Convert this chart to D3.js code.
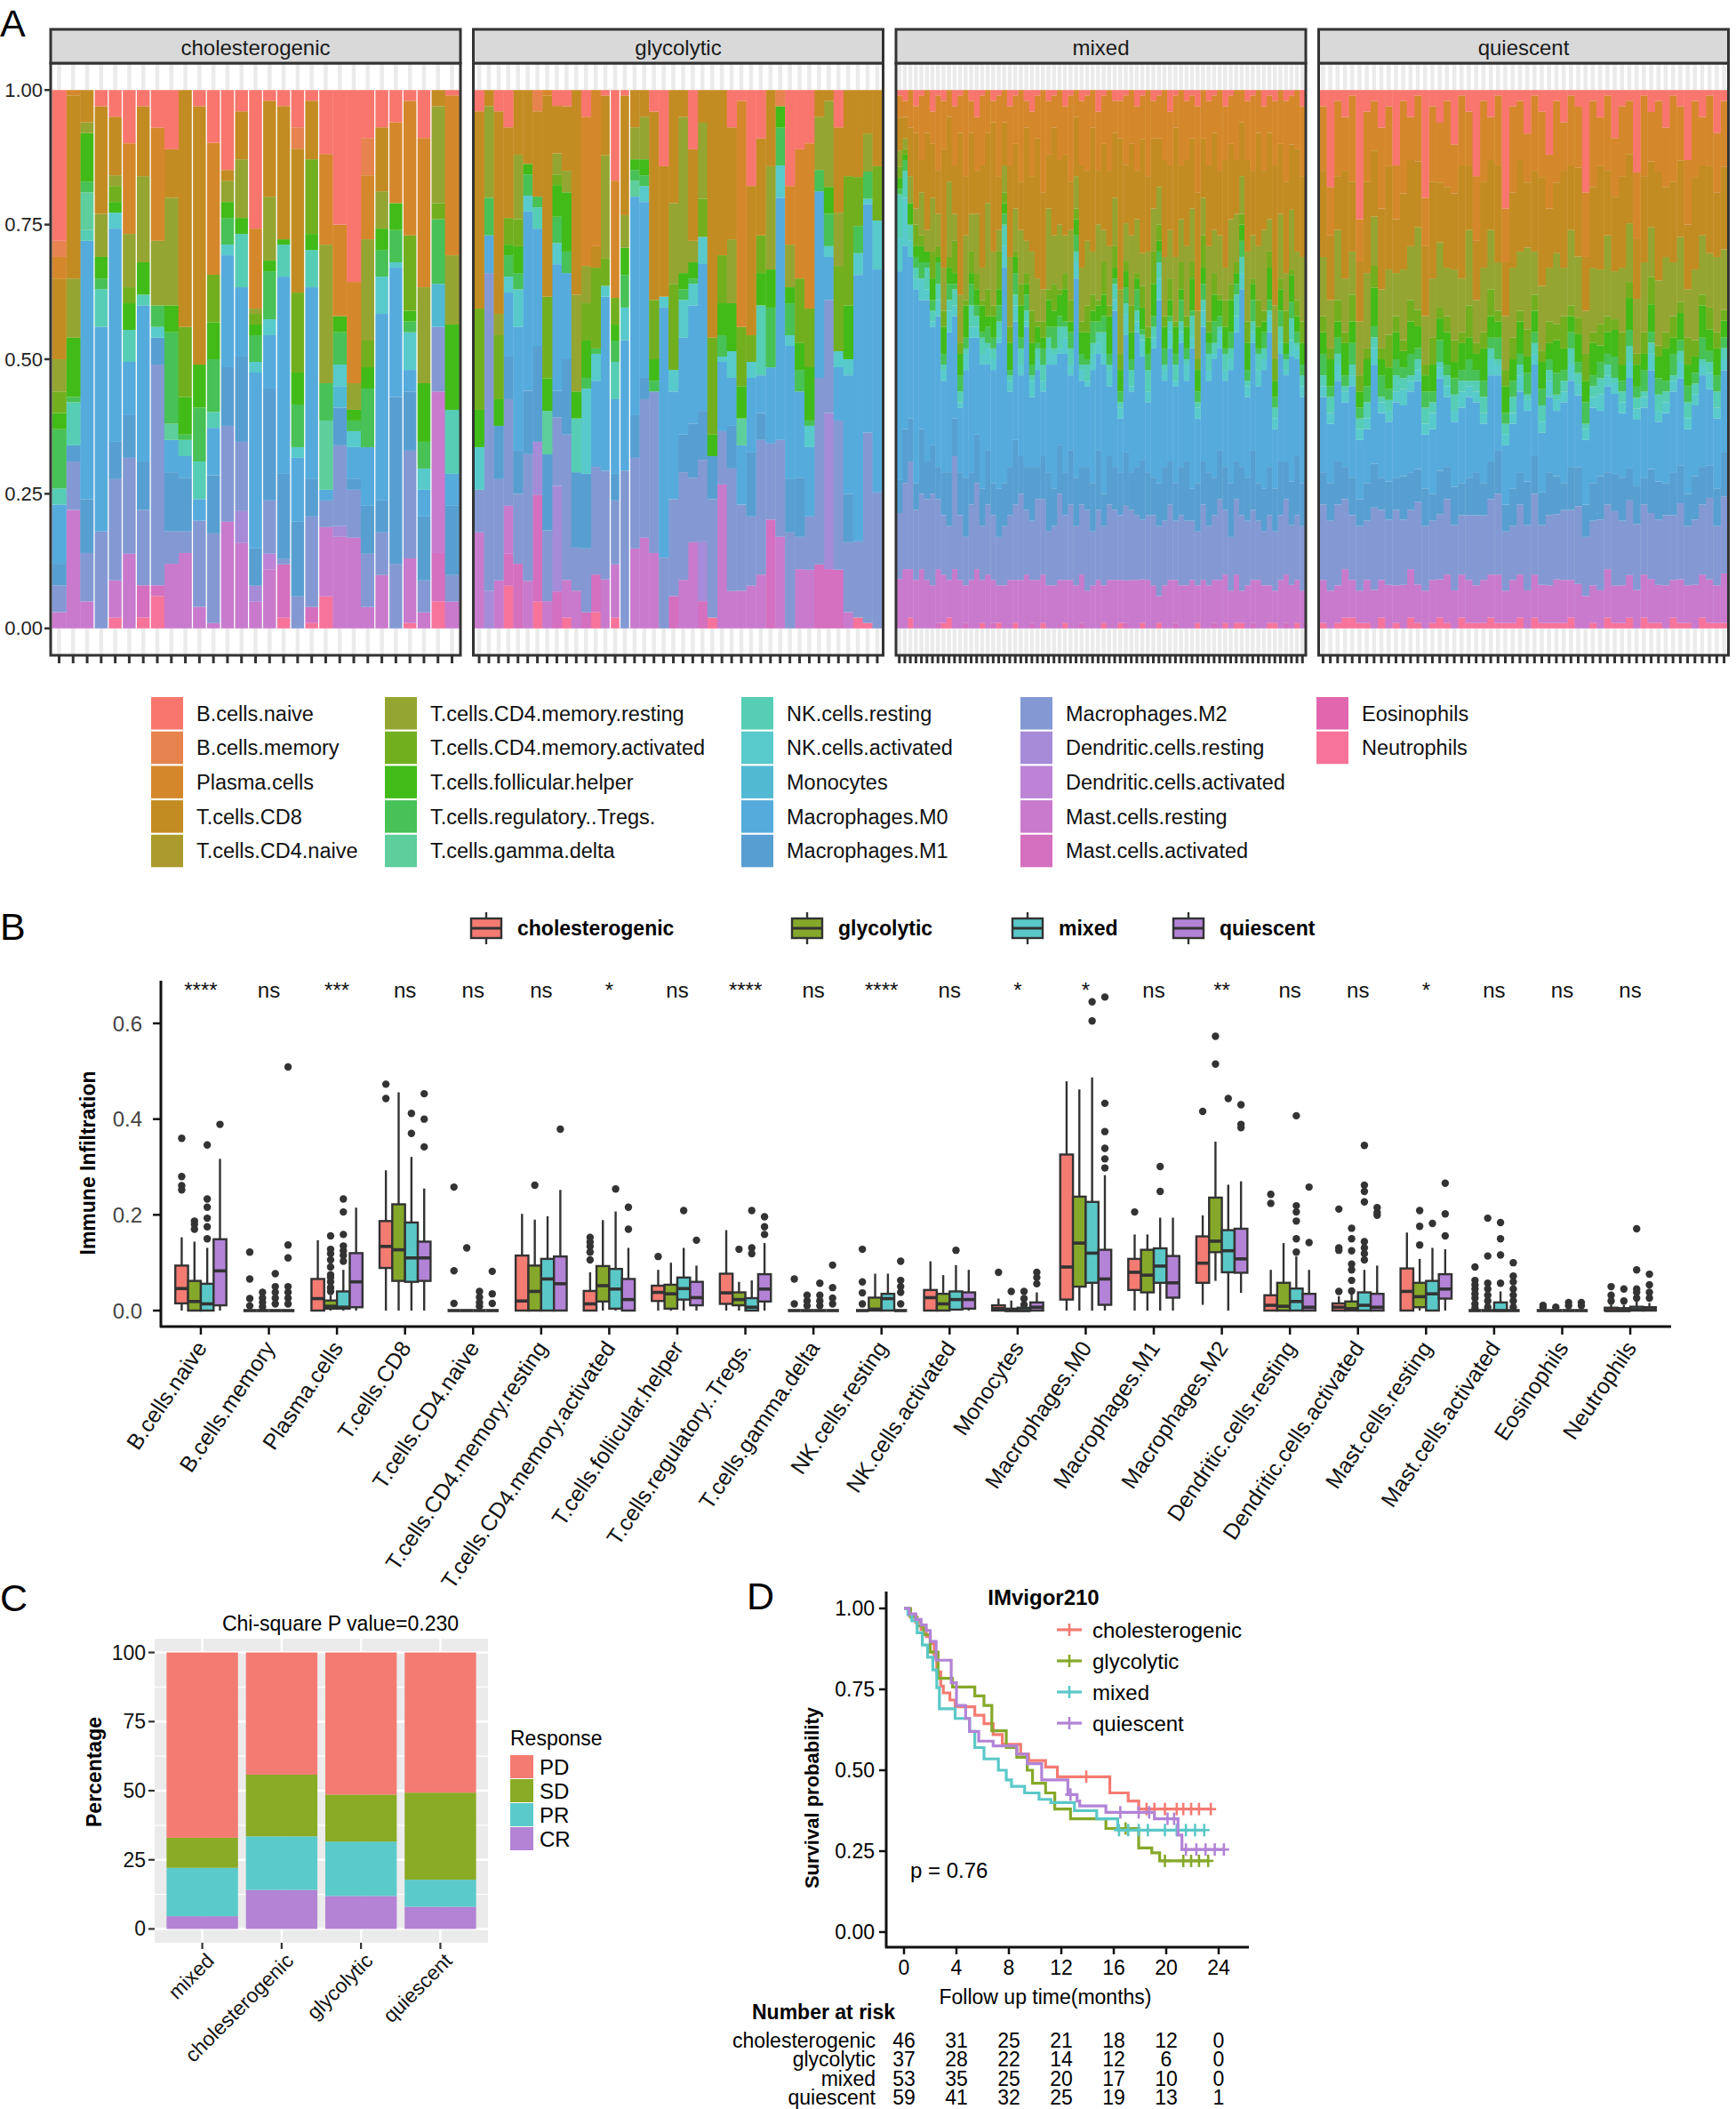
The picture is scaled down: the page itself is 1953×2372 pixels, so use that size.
<!DOCTYPE html>
<html><head><meta charset="utf-8">
<script src="https://cdn.jsdelivr.net/npm/d3@7"></script>
<style>body{margin:0;background:#fff}svg{display:block}text{font-family:"Liberation Sans",Arial,Helvetica,sans-serif}</style>
</head><body><svg id="c" width="1953" height="2372"></svg>
<script>
// ---------------- DATA ----------------
const cellTypes = ["B.cells.naive","B.cells.memory","Plasma.cells","T.cells.CD8","T.cells.CD4.naive","T.cells.CD4.memory.resting","T.cells.CD4.memory.activated","T.cells.follicular.helper","T.cells.regulatory..Tregs.","T.cells.gamma.delta","NK.cells.resting","NK.cells.activated","Monocytes","Macrophages.M0","Macrophages.M1","Macrophages.M2","Dendritic.cells.resting","Dendritic.cells.activated","Mast.cells.resting","Mast.cells.activated","Eosinophils","Neutrophils"];
const subtypes = ["cholesterogenic","glycolytic","mixed","quiescent"];

// Panel A: per-sample fractions (percent, in cellTypes order)
const fracChol = ["28 3 4 15 0 6 4 3 11 0 3 0 0 11 4 5 0 0 3 0 0 0","0 0 1 34 0 11 0 11 1 0 8 0 0 0 3 9 0 0 22 0 0 0","0 0 0 6 0 2 0 9 2 7 2 0 0 48 10 9 0 0 5 0 0 0","3 0 0 20 0 8 0 4 2 0 7 0 0 38 0 18 0 0 0 0 0 0","5 0 0 11 0 2 3 2 0 0 0 3 0 40 7 19 0 0 7 0 0 2","10 0 17 0 0 10 3 5 0 0 6 0 0 10 8 18 0 0 14 0 0 0","3 0 0 13 0 16 0 6 0 0 2 0 0 29 9 14 0 0 0 6 0 2","7 0 21 0 0 12 0 0 4 0 0 2 0 0 5 41 0 0 0 2 0 6","11 0 0 9 0 20 0 5 17 3 0 0 0 6 11 6 0 0 12 0 0 0","0 0 0 44 0 0 13 7 1 0 3 0 0 4 10 4 0 0 14 0 0 0","3 0 0 48 0 0 0 8 10 0 7 0 0 4 0 16 0 0 4 0 0 0","10 0 25 0 0 0 9 7 10 0 3 0 0 9 11 17 0 0 1 0 0 0","15 0 0 2 0 4 0 3 5 0 0 2 0 21 11 18 0 0 20 0 0 0","4 0 0 9 0 11 0 3 0 0 10 0 0 13 16 13 6 0 16 0 0 0","26 0 15 0 0 1 2 2 5 0 0 2 0 33 7 0 3 0 5 0 0 0","2 0 0 18 0 12 0 2 9 0 0 3 0 10 21 10 0 3 11 0 0 0","3 0 0 25 0 0 0 1 0 0 6 0 0 37 16 1 0 0 0 10 0 2","7 4 0 27 0 0 15 6 8 0 0 2 0 12 14 6 0 0 0 0 0 0","2 0 0 11 0 0 14 3 0 0 7 0 0 36 7 17 0 0 0 3 0 1","12 0 17 0 0 26 0 0 7 13 0 0 0 2 0 5 0 0 13 0 0 6","25 0 17 0 0 0 0 3 6 0 0 4 4 0 7 15 2 0 17 0 0 0","36 0 19 0 0 5 0 2 2 0 0 3 0 6 2 9 0 0 17 0 0 0","9 7 12 0 0 19 5 4 11 0 0 0 0 11 9 10 0 0 4 0 0 0","7 0 0 12 0 7 0 4 5 0 0 7 0 35 6 8 0 0 10 0 0 0","6 0 15 0 0 0 0 5 6 0 0 1 0 24 31 12 0 0 0 0 0 0","2 0 25 0 0 0 14 2 2 0 0 7 0 4 11 20 0 0 12 0 0 1","9 0 28 0 0 18 0 11 5 0 0 4 0 5 12 6 0 0 3 0 0 0","0 0 0 3 0 18 3 0 12 0 0 0 8 0 0 12 0 0 30 9 0 5","1 0 30 0 0 13 0 16 0 0 12 0 0 6 13 5 0 0 5 0 0 0"];
const fracGlyc = ["4 0 0 37 0 0 19 7 0 0 0 8 0 0 0 8 0 0 18 0 0 0","0 0 0 3 0 17 0 0 7 0 0 0 0 7 0 59 7 0 0 0 0 0","4 0 0 38 0 4 12 5 0 0 0 0 0 0 10 19 0 0 9 0 0 0","7 0 0 17 0 0 5 2 4 0 0 3 0 12 8 20 0 0 9 6 0 8","0 0 0 12 0 12 5 5 3 0 0 7 0 23 8 13 0 0 0 12 0 0","0 0 0 14 0 0 0 2 4 0 0 3 0 34 12 24 0 0 9 0 0 0","0 4 0 16 0 0 0 0 2 0 4 0 0 22 18 0 10 0 0 20 0 5","0 0 1 37 0 0 15 6 0 8 0 0 0 0 14 13 0 0 5 0 0 0","3 0 0 9 0 4 2 6 5 0 0 4 0 24 5 13 20 0 0 7 0 0","3 0 0 12 0 4 0 11 4 0 0 0 0 16 14 27 0 0 7 0 0 2","0 0 0 38 0 18 0 5 0 0 10 0 0 0 14 8 0 0 7 0 0 0","5 0 28 0 0 7 7 7 2 0 0 16 0 0 14 12 0 0 0 3 0 0","0 0 29 4 0 0 15 0 1 0 0 5 0 16 0 20 0 0 0 7 0 3","1 0 0 11 0 19 5 0 0 0 0 2 0 32 0 20 0 0 9 0 0 0","17 0 22 0 0 0 5 3 4 0 7 0 0 14 5 12 0 0 10 0 0 2","1 0 0 22 0 6 0 5 6 0 0 6 0 24 0 29 0 0 0 0 0 0","0 0 0 7 0 6 0 2 2 3 0 0 0 41 8 17 0 0 15 0 0 0","0 0 0 5 0 8 0 3 2 0 0 3 0 33 4 26 0 0 17 0 0 0","4 0 0 35 0 0 11 4 2 0 0 0 0 0 0 30 0 0 14 0 0 0","14 0 0 24 0 0 0 0 0 0 0 2 0 46 0 13 0 0 0 0 0 0","0 0 0 21 0 15 16 0 0 0 0 4 0 20 0 18 0 0 0 6 0 0","0 0 0 5 0 29 0 3 2 0 0 7 0 18 7 20 0 0 9 0 0 0","11 0 0 17 0 4 0 3 1 0 0 4 0 22 10 12 0 0 16 0 0 0","0 0 0 6 0 14 7 0 0 0 0 5 0 27 9 15 11 0 0 5 0 0","0 0 0 46 0 0 18 4 0 0 0 0 0 0 8 22 0 0 0 0 0 2","0 0 0 31 0 0 9 6 4 0 0 1 0 13 0 10 0 0 27 0 0 0","7 0 0 21 0 12 0 9 0 0 0 5 0 9 8 23 0 0 7 0 0 0","2 0 42 0 0 0 11 6 0 5 0 0 0 11 0 16 0 0 7 0 0 0","18 0 0 28 0 0 5 0 0 0 0 3 0 14 12 13 0 0 8 0 0 0","9 0 0 18 0 0 7 6 0 0 13 0 0 7 5 25 0 0 10 0 0 0","0 0 0 14 0 19 0 7 11 0 0 0 0 14 0 14 0 0 0 20 0 0","0 3 0 0 0 0 0 4 7 0 0 6 0 45 0 18 0 0 17 0 0 0","18 0 11 0 0 8 0 3 6 0 0 2 0 25 10 18 0 0 0 0 0 0","11 0 24 0 0 0 12 5 4 0 0 0 0 16 11 6 0 0 11 0 0 0","10 0 31 0 0 0 11 10 1 0 0 4 0 13 0 10 0 0 11 0 0 0","0 0 0 5 0 10 0 0 4 0 0 0 0 35 0 35 0 0 0 12 0 0","0 0 0 2 0 16 0 5 6 0 0 2 0 8 0 21 29 0 0 11 0 0","7 0 0 16 0 10 16 0 0 0 0 3 0 10 0 28 0 0 0 11 0 0","0 0 0 16 0 0 24 10 0 0 0 3 0 22 9 13 0 0 3 0 0 0","0 0 0 16 0 0 9 0 5 0 0 4 0 49 0 14 0 0 0 0 0 2","0 0 0 8 0 7 0 0 5 0 0 1 0 42 0 35 0 0 0 0 0 1","0 0 0 14 0 0 10 0 0 0 0 9 0 41 0 25 0 0 0 0 0 0"];
const fracMixed = ["1 0 4 6 0 3 2 2 1 0 8 6 0 38 6 12 0 0 9 0 0 0","2 0 3 4 0 2 1 1 2 0 5 9 0 34 10 16 0 0 11 0 0 0","0 0 7 9 0 5 0 4 0 0 3 3 0 30 8 20 0 0 9 0 0 2","3 0 5 14 0 3 4 2 2 0 2 2 0 36 5 13 0 0 9 0 0 0","1 0 12 6 0 8 2 3 3 0 0 4 0 24 12 14 0 0 11 0 0 0","0 0 8 18 0 4 0 2 1 0 4 2 0 30 7 15 0 0 9 0 0 0","4 0 6 10 0 10 5 4 2 0 2 1 0 22 9 17 0 0 8 0 0 0","1 0 14 8 0 6 2 1 4 0 3 3 0 28 6 13 0 0 10 1 0 0","2 0 9 22 0 8 3 5 2 0 1 2 0 17 8 11 0 0 9 0 0 1","0 0 5 12 0 14 2 3 3 0 2 4 0 26 10 10 0 0 7 0 0 2","3 0 11 9 0 5 6 2 1 0 3 2 0 19 7 21 0 0 11 0 0 0","1 0 7 30 0 9 2 4 3 0 2 1 0 12 8 12 0 0 9 0 0 0","0 0 16 11 0 12 1 6 2 0 1 3 0 20 11 9 0 0 7 1 0 0","2 0 6 15 0 7 4 2 4 0 4 2 0 25 6 14 0 0 9 0 0 0","5 0 10 8 0 11 3 3 2 0 2 2 0 18 9 16 0 0 11 0 0 0","1 0 13 19 0 6 1 5 1 0 3 2 0 23 7 10 0 0 8 0 0 1","0 0 8 13 0 16 5 2 3 0 1 3 0 16 10 13 0 0 10 0 0 0","2 0 4 24 0 10 2 4 2 0 2 2 0 21 6 12 0 0 8 1 0 0","1 0 15 10 0 4 7 3 3 0 3 1 0 27 9 9 0 0 7 0 0 1","0 0 6 8 0 5 2 2 2 0 4 4 0 40 8 11 0 0 8 0 0 0","3 0 11 17 0 13 3 5 1 0 1 2 0 14 9 12 0 0 9 0 0 0","1 0 9 12 0 8 1 3 4 0 2 3 0 22 12 14 0 0 8 0 0 1","0 0 17 9 0 10 4 6 2 0 3 2 0 15 7 16 0 0 9 0 0 0","2 0 5 21 0 6 2 2 3 0 2 1 0 26 8 12 0 0 10 0 0 0","4 0 12 14 0 11 6 4 2 0 1 3 0 13 10 11 0 0 8 1 0 0","1 0 8 26 0 8 1 3 1 0 2 2 0 18 6 15 0 0 9 0 0 0","0 0 19 18 0 6 3 2 3 0 3 2 0 12 8 14 0 0 9 0 0 1","2 0 10 10 0 15 2 5 2 0 2 3 0 20 11 10 0 0 8 0 0 0","1 0 6 20 0 9 5 3 4 0 1 2 0 23 7 11 0 0 8 0 0 0","0 0 13 12 0 12 1 4 2 0 4 1 0 17 9 16 0 0 9 0 0 0","3 0 9 15 0 7 3 6 1 0 2 3 0 22 8 12 0 0 8 0 0 1","1 0 16 9 0 13 4 2 3 0 3 2 0 14 10 14 0 0 9 0 0 0","0 0 5 11 0 6 2 3 3 0 2 3 0 37 9 11 0 0 8 0 0 0","2 0 12 19 0 10 2 4 2 0 1 2 0 16 7 13 0 0 9 1 0 0","1 0 14 13 0 12 5 5 1 0 3 1 0 15 8 15 0 0 7 0 0 0","0 0 7 23 0 8 3 2 4 0 2 3 0 21 9 10 0 0 8 0 0 0","4 0 11 10 0 14 1 3 2 0 2 2 0 18 11 13 0 0 9 0 0 0","1 0 9 16 0 6 6 4 3 0 4 2 0 24 6 11 0 0 7 0 0 1","0 0 15 14 0 11 2 7 2 0 1 3 0 13 9 14 0 0 9 0 0 0","2 0 6 12 0 9 4 2 1 0 3 2 0 29 8 13 0 0 9 0 0 0","2 0 7 28 0 12 3 4 2 0 1 2 0 10 8 12 0 0 8 0 0 1","1 0 13 11 0 7 2 3 3 0 2 4 0 22 10 14 0 0 8 1 0 0","0 0 10 17 0 13 5 5 2 0 3 1 0 15 7 13 0 0 9 0 0 0","3 0 12 9 0 10 1 2 4 0 2 2 0 25 9 12 0 0 9 0 0 0","1 0 8 21 0 6 4 4 1 0 1 3 0 19 11 11 0 0 8 0 0 1","0 0 16 14 0 14 2 3 3 0 4 2 0 13 8 12 0 0 9 0 0 0","2 0 7 13 0 8 6 6 2 0 2 2 0 24 7 13 0 0 8 0 0 0","1 0 8 9 0 7 3 2 2 0 3 4 0 34 8 13 0 0 5 0 0 1","0 0 13 18 0 11 2 4 3 0 1 2 0 16 10 12 0 0 8 0 0 0","4 0 10 12 0 9 4 3 1 0 2 3 0 21 8 14 0 0 9 0 0 0","1 0 6 24 0 12 1 5 2 0 3 1 0 18 7 11 0 0 8 1 0 0","0 0 14 10 0 8 5 2 4 0 2 2 0 23 9 13 0 0 8 0 0 0","2 0 11 16 0 13 2 4 2 0 1 3 0 15 11 12 0 0 8 0 0 0","1 0 8 13 0 10 3 6 1 0 4 2 0 26 6 11 0 0 9 0 0 0","3 0 16 22 0 9 2 4 2 0 1 2 0 12 9 10 0 0 7 0 0 1","0 0 9 11 0 7 6 3 3 0 2 3 0 25 8 14 0 0 9 0 0 0","2 0 12 15 0 14 2 2 2 0 3 2 0 17 10 11 0 0 8 0 0 0","1 0 7 18 0 8 4 5 4 0 2 1 0 22 7 12 0 0 8 1 0 0","0 0 15 12 0 11 1 3 2 0 1 3 0 19 9 15 0 0 9 0 0 0","3 0 10 20 0 6 5 4 1 0 3 2 0 16 8 12 0 0 9 0 0 1","1 0 9 14 0 12 3 6 3 0 2 2 0 21 10 10 0 0 7 0 0 0","0 0 13 10 0 9 2 2 2 0 4 3 0 24 7 14 0 0 9 0 0 1","0 0 6 10 0 7 2 3 3 0 3 3 0 33 9 14 0 0 6 0 0 1","2 0 11 17 0 13 4 5 2 0 1 2 0 15 8 12 0 0 8 0 0 0","1 0 14 12 0 8 1 3 4 0 2 2 0 20 11 13 0 0 8 1 0 0","0 0 8 21 0 10 5 4 1 0 3 3 0 18 7 11 0 0 9 0 0 0","3 0 12 11 0 15 2 2 3 0 2 2 0 22 8 10 0 0 8 0 0 0","1 0 7 16 0 6 3 6 2 0 1 3 0 25 9 13 0 0 7 0 0 1","2 0 12 26 0 10 4 3 2 0 2 2 0 11 8 11 0 0 6 0 0 1","0 0 10 13 0 12 2 4 3 0 3 2 0 20 10 12 0 0 9 0 0 0","2 0 15 17 0 7 6 2 1 0 2 1 0 16 7 14 0 0 9 1 0 0","1 0 9 12 0 11 1 5 3 0 4 3 0 23 8 11 0 0 8 0 0 0","0 0 11 19 0 9 3 3 2 0 1 2 0 18 11 12 0 0 8 0 0 1","3 0 13 15 0 12 4 4 2 0 2 2 0 16 8 12 0 0 7 0 0 0"];
const fracQuies = ["3 0 12 16 0 11 3 4 4 0 2 2 0 14 6 14 0 0 8 0 0 1","18 0 9 12 0 9 2 5 2 0 3 2 0 11 7 13 0 0 7 0 0 0","2 0 14 10 0 13 4 3 3 0 2 3 0 15 8 15 0 0 7 0 0 1","5 0 10 20 0 10 2 6 2 0 1 2 0 12 6 13 0 0 9 0 0 2","1 0 16 13 0 8 5 4 4 0 2 2 0 17 7 12 0 0 7 0 0 2","24 0 8 11 0 10 3 3 2 0 2 2 0 11 5 12 0 0 6 0 0 1","4 0 13 17 0 14 2 5 3 0 3 2 0 10 7 11 0 0 8 0 0 1","2 0 9 12 0 9 4 7 2 0 2 3 0 18 8 15 0 0 7 0 0 0","7 0 15 15 0 11 2 3 4 0 1 2 0 12 6 13 0 0 7 0 0 2","3 0 11 19 0 12 6 4 2 0 2 2 0 11 7 12 0 0 8 0 0 0","14 0 10 10 0 8 3 5 3 0 3 2 0 14 6 14 0 0 7 0 0 1","2 0 17 14 0 13 2 3 2 0 2 3 0 13 8 12 0 0 8 0 0 0","5 0 8 16 0 10 4 6 4 0 1 2 0 15 7 11 0 0 9 0 0 2","1 0 12 12 0 15 3 4 2 0 2 2 0 16 6 15 0 0 7 0 0 1","20 0 9 13 0 9 2 3 3 0 3 2 0 10 7 12 0 0 7 0 0 0","3 0 14 18 0 11 5 5 2 0 2 3 0 12 5 11 0 0 8 0 0 1","6 0 11 11 0 12 2 4 4 0 1 2 0 17 8 12 0 0 7 0 0 2","2 0 16 15 0 9 3 6 2 0 2 2 0 13 6 14 0 0 9 0 0 1","10 0 9 14 0 13 4 3 3 0 3 2 0 12 7 12 0 0 7 0 0 0","1 0 13 21 0 10 2 5 2 0 2 3 0 14 6 11 0 0 8 0 0 2","4 0 10 12 0 14 6 4 4 0 1 2 0 15 7 12 0 0 8 0 0 1","16 0 12 11 0 8 2 3 2 0 2 2 0 13 8 13 0 0 7 0 0 1","2 0 15 16 0 12 3 6 3 0 3 2 0 11 6 12 0 0 8 0 0 1","5 0 8 13 0 11 5 4 2 0 2 3 0 16 7 14 0 0 8 0 0 2","1 0 13 18 0 9 2 3 4 0 1 2 0 14 8 15 0 0 9 0 0 1","22 0 10 10 0 10 3 5 2 0 2 2 0 11 5 11 0 0 6 0 0 1","3 0 16 14 0 13 4 4 3 0 3 2 0 12 7 10 0 0 8 0 0 1","2 0 11 17 0 11 2 6 2 0 2 3 0 15 6 13 0 0 8 0 0 2","8 0 9 12 0 15 5 3 4 0 1 2 0 13 8 12 0 0 7 0 0 0","1 0 14 15 0 8 3 4 2 0 2 2 0 17 7 15 0 0 8 0 0 2","4 0 12 20 0 12 2 5 3 0 3 2 0 11 6 11 0 0 7 0 0 1","12 0 10 11 0 10 4 3 2 0 2 3 0 14 8 13 0 0 7 0 0 1","2 0 15 13 0 13 3 6 4 0 1 2 0 12 7 12 0 0 8 0 0 1","6 0 9 18 0 9 6 4 2 0 2 2 0 15 5 13 0 0 8 0 0 1","1 0 13 12 0 14 2 3 3 0 3 3 0 16 8 13 0 0 7 0 0 2","3 0 11 16 0 11 3 5 2 0 2 2 0 13 7 14 0 0 8 0 0 0","19 0 12 10 0 8 5 4 4 0 1 2 0 12 6 11 0 0 6 0 0 0","2 0 16 15 0 12 2 6 2 0 2 2 0 14 7 12 0 0 7 0 0 1","5 0 9 19 0 10 4 3 3 0 3 3 0 12 8 13 0 0 7 0 0 0","1 0 14 12 0 15 3 4 2 0 2 2 0 16 6 12 0 0 9 0 0 2","9 0 11 14 0 9 2 5 4 0 1 2 0 15 7 14 0 0 7 0 0 1","3 0 13 17 0 12 6 3 2 0 2 2 0 12 8 12 0 0 7 0 0 1","2 0 10 13 0 11 3 6 3 0 3 3 0 17 6 14 0 0 8 0 0 2","15 0 12 11 0 10 2 4 2 0 2 2 0 12 7 12 0 0 7 0 0 0","1 0 15 16 0 13 4 3 4 0 1 2 0 13 5 13 0 0 8 0 0 2","4 0 9 12 0 9 5 5 2 0 2 3 0 18 8 12 0 0 8 0 0 1","2 0 13 20 0 12 2 4 3 0 3 2 0 11 7 12 0 0 7 0 0 1","7 0 11 13 0 14 3 6 2 0 2 2 0 13 6 13 0 0 8 0 0 0","1 0 16 15 0 10 4 3 4 0 1 2 0 15 8 12 0 0 7 0 0 2","3 0 10 14 0 12 2 5 2 0 2 3 0 16 7 14 0 0 8 0 0 1","13 0 12 12 0 9 5 4 3 0 3 2 0 12 6 11 0 0 7 0 0 1","2 0 14 17 0 13 3 3 2 0 2 2 0 13 8 12 0 0 8 0 0 0","5 0 9 13 0 11 2 6 4 0 1 2 0 17 7 13 0 0 8 0 0 2","1 0 13 16 0 10 4 4 2 0 2 3 0 14 6 15 0 0 8 0 0 1","8 0 11 12 0 14 3 5 3 0 3 2 0 13 7 11 0 0 7 0 0 1","2 0 12 15 0 11 2 3 2 0 2 2 0 15 8 14 0 0 9 0 0 1"];
// bars followed by a thin white seam in the picture
const seamsChol = [2,3,4,5,6,9,10,11,12,13,14,15,16,17,18,22,23,24,25,26];
const seamsGlyc = [13,14,15];

// Panel B: box stats [lower whisker, q1, median, q3, upper whisker] per cell type x subtype
const boxStats = [
 [[0,.015,.046,.094,.153],[0,0,.019,.062,.144],[0,0,.014,.056,.131],[0,.011,.083,.149,.317]],
 [[0,0,0,0,0],[0,0,0,0,0],[0,0,0,0,0],[0,0,0,0,0]],
 [[0,0,.025,.066,.147],[0,.004,.009,.021,.032],[0,.004,.007,.04,.085],[0,.007,.06,.12,.215]],
 [[0,.089,.134,.187,.293],[0,.062,.127,.222,.456],[0,.06,.11,.184,.321],[0,.062,.11,.144,.255]],
 [[0,0,0,0,0],[0,0,0,0,0],[0,0,0,0,0],[0,0,0,0,0]],
 [[0,0,.02,.115,.202],[0,0,.04,.094,.19],[0,0,.066,.108,.197],[0,0,.056,.113,.252]],
 [[0,0,.014,.041,.08],[0,.019,.052,.093,.189],[0,.004,.045,.087,.207],[0,0,.023,.066,.131]],
 [[0,.02,.038,.052,.085],[0,.004,.035,.054,.1],[0,.023,.046,.069,.131],[0,.011,.027,.06,.094]],
 [[0,.014,.037,.077,.168],[0,.011,.023,.038,.06],[0,0,.007,.026,.063],[0,.019,.045,.076,.141]],
 [[0,0,0,0,0],[0,0,0,0,0],[0,0,0,0,0],[0,0,0,0,0]],
 [[0,0,0,0,0],[0,0,.003,.027,.077],[0,0,.025,.035,.077],[0,0,0,0,0]],
 [[0,0,.027,.043,.103],[0,0,.014,.035,.074],[0,.002,.023,.04,.095],[0,.004,.023,.038,.085]],
 [[0,0,.004,.011,.025],[0,0,0,.004,.021],[0,0,0,.006,.015],[0,0,.007,.017,.038]],
 [[0,.023,.091,.326,.479],[0,.05,.141,.238,.462],[0,.058,.12,.227,.487],[0,.012,.066,.127,.283]],
 [[0,.043,.08,.108,.159],[0,.038,.074,.127,.159],[0,.058,.093,.13,.194],[0,.027,.058,.114,.194]],
 [[.012,.058,.099,.155,.199],[.062,.122,.145,.236,.353],[0,.08,.125,.168,.263],[.037,.079,.108,.171,.27]],
 [[0,0,.011,.032,.085],[0,0,.009,.058,.141],[0,0,.019,.046,.113],[0,0,.007,.035,.085]],
 [[0,0,.007,.015,.03],[0,0,.004,.019,.04],[0,0,.011,.038,.085],[0,0,.007,.035,.094]],
 [[0,0,.04,.088,.163],[0,.007,.029,.058,.108],[0,0,.035,.062,.131],[0,.025,.045,.076,.128]],
 [[0,0,0,0,0],[0,0,0,0,0],[0,0,0,.017,.04],[0,0,0,0,0]],
 [[0,0,0,0,0],[0,0,0,0,0],[0,0,0,0,0],[0,0,0,0,0]],
 [[0,0,0,.006,.014],[0,0,0,.005,.012],[0,0,.002,.008,.02],[0,0,.002,.007,.016]]
];
const boxOutliers = [
 [[.36,.28,.261,.252],[.187,.18,.17],[.346,.233,.216,.193,.175,.15],[.389]],
 [[.122,.066,.025,.01],[.038,.026,.017,.008],[.077,.05,.038,.026,.014],[.509,.137,.11,.05,.038,.026,.014]],
 [[],[.156,.128,.119,.106,.091,.075,.069,.06,.048,.04],[.233,.206,.159,.135,.125,.115,.103],[]],
 [[.473,.443],[],[.412,.37],[.453,.40,.342]],
 [[.258,.083,.015],[.131],[.04,.028,.017,.009],[.082,.035,.015]],
 [[],[.262],[],[.379]],
 [[.153,.143,.134,.122,.106],[],[.254],[.216,.17]],
 [[.113],[],[.209],[.147]],
 [[],[.128],[.209,.131,.119],[.196,.175,.159]],
 [[.066,.014],[.032,.02,.01],[.057,.032,.02,.01],[.095,.048,.026,.014]],
 [[.128,.06,.037,.014],[],[],[.103,.063,.05,.038,.014]],
 [[],[],[.126],[]],
 [[.08],[.04],[.04,.025,.012],[.08,.069,.056]],
 [[],[],[.645,.605],[.655,.433,.374,.339,.317,.298]],
 [[.206],[],[.301,.249],[]],
 [[.416],[.573,.515],[.443],[.43,.389,.382]],
 [[.243,.224],[],[.407,.219,.206,.187,.15,.122],[.258,.142]],
 [[.212,.131,.126,.04],[.172,.15,.125,.097,.085,.063,.041],[.345,.262,.249,.227,.144,.131,.119,.106],[.215,.205,.199]],
 [[],[.209,.176,.137],[.182],[.266,.202,.156]],
 [[.091,.063,.054,.045,.035,.026,.014,.005],[.193,.114,.057,.045,.032,.02,.007],[.184,.15,.116,.057],[.1,.072,.06,.045,.032,.02,.007]],
 [[.011,.007],[.007],[.017,.01],[.017,.01]],
 [[.05,.032,.02],[.045,.02],[.171,.085,.045,.038,.026],[.076,.054,.038,.026]]
];
const sigLabels = ["****","ns","***","ns","ns","ns","*","ns","****","ns","****","ns","*","*","ns","**","ns","ns","*","ns","ns","ns"];
const bTicks = [0,0.2,0.4,0.6];

// Panel C: response percentages
const respOrder = ["mixed","cholesterogenic","glycolytic","quiescent"];
const respLevels = ["PD","SD","PR","CR"];
const respPD = [67.0,44.2,51.4,50.7];
const respSD = [10.9,22.3,17.0,31.5];
const respPR = [17.5,19.4,19.7,9.8];
const respCR = [4.6,14.1,11.9,8.0];
const cTicks = [0,25,50,75,100];

// Panel D: Kaplan-Meier steps [time, survival] and censor times
const kmChol = [[0,1],[0.4,.978],[0.9,.957],[1.3,.935],[1.7,.913],[2.0,.891],[2.3,.848],[2.5,.804],[2.8,.76],[3.0,.739],[3.5,.717],[3.9,.696],[5.4,.67],[6.1,.644],[6.8,.61],[7.5,.58],[8.9,.55],[9.5,.53],[10.8,.51],[11.7,.48],[15.7,.43],[17.1,.405],[17.9,.38]];
const censChol = [13.9,18.5,19.1,19.9,20.8,21.3,21.9,22.5,23.4];
const kmGlyc = [[0,1],[0.5,.973],[1.0,.946],[1.5,.919],[2.0,.865],[2.6,.784],[3.7,.757],[5.4,.73],[6.1,.70],[6.7,.622],[7.8,.57],[8.6,.54],[9.4,.50],[9.8,.46],[10.8,.43],[11.5,.38],[12.7,.35],[15.4,.32],[17.9,.26],[18.9,.245],[19.5,.22]];
const censGlyc = [16.9,19.9,21.3,21.9,22.5,23.2];
const kmMixed = [[0,1],[0.3,.981],[0.6,.962],[1.0,.925],[1.4,.887],[1.8,.849],[2.2,.81],[2.5,.755],[2.7,.69],[3.9,.66],[5.0,.62],[5.4,.57],[6.1,.535],[7.2,.50],[7.8,.47],[8.2,.45],[9.2,.43],[10.3,.41],[11.2,.40],[13.0,.375],[14.7,.35],[16.3,.315]];
const censMixed = [16.4,17.1,17.9,18.6,19.9,20.8,21.5,22.2,22.9];
const kmQuies = [[0,1],[0.4,.983],[0.9,.966],[1.3,.949],[1.7,.932],[2.0,.898],[2.45,.84],[3.6,.77],[4.0,.70],[4.7,.66],[5.0,.62],[5.7,.59],[6.8,.575],[8.6,.55],[9.4,.52],[10.5,.47],[12.5,.425],[13.2,.405],[13.4,.39],[15.4,.37],[19.1,.35],[20.9,.30],[21.2,.255]];
const censQuies = [12.7,16.5,17.9,18.7,20.1,20.6,21.5,22.3,23.0,23.7,24.4];
const riskTimes = [0,4,8,12,16,20,24];
const riskChol = [46,31,25,21,18,12,0];
const riskGlyc = [37,28,22,14,12,6,0];
const riskMixed = [53,35,25,20,17,10,0];
const riskQuies = [59,41,32,25,19,13,1];
const dTicksY = [0,0.25,0.5,0.75,1];

// ---------------- STYLE ----------------
const cellColors = ["#F8766D","#E7834E","#D5882B","#C38C22","#AA9B2C","#95A531","#72AF1F","#41BB18","#48C156","#5DCE9C","#56CDB5","#58CACB","#52B9D3","#56ABDD","#589FD1","#8499D3","#A58BD8","#BC83D6","#C97ACD","#D56FBF","#E166AE","#F7739A"];
const subColors = ["#F47B72","#86A82A","#5BC8C8","#B283D6"];
const respColors = ["#F47B72","#8AAB25","#5BCACA","#B383D5"];
const cellColor = d3.scaleOrdinal(cellTypes, cellColors);
const dark = "#333333";
const svg = d3.select("#c");
svg.append("rect").attr("width",1953).attr("height",2372).attr("fill","#fff");
function label(txt,x,y){svg.append("text").attr("x",x).attr("y",y).attr("font-size",43).text(txt);}
label("A",0,41); label("B",0,1057); label("C",0,1812); label("D",840,1810);

// ---------------- PANEL A ----------------
const yA = d3.scaleLinear().domain([-0.05,1.05]).range([737,71]);
const facetData = [fracChol,fracGlyc,fracMixed,fracQuies];
const facetSeams = [seamsChol,seamsGlyc,[],[]];
const stackGen = d3.stack().keys(cellTypes.slice().reverse()).offset(d3.stackOffsetExpand);
facetData.forEach((rowsStr,i)=>{
  const rows = rowsStr.map(s=>s.split(" ").map(Number));
  const left = 57 + i*475.5, w = 461, n = rows.length, u = w/(n+0.2);
  const x = d3.scaleBand().domain(d3.range(n)).range([left+0.1*u, left+w-0.1*u]).padding(0);
  const g = svg.append("g");
  g.append("rect").attr("x",left).attr("y",71).attr("width",w).attr("height",666).attr("fill","#fff");
  g.selectAll("line.gr").data(d3.range(n)).join("line")
    .attr("x1",d=>x(d)+x.bandwidth()/2).attr("x2",d=>x(d)+x.bandwidth()/2)
    .attr("y1",71).attr("y2",737).attr("stroke","#EBEBEB").attr("stroke-width",4.5);
  const data = rows.map((r,j)=>{const o={idx:j}; cellTypes.forEach((c,k)=>o[c]=r[k]); return o;});
  const series = stackGen(data);
  g.selectAll("g.s").data(series).join("g").attr("fill",s=>cellColor(s.key))
    .selectAll("rect").data(s=>s).join("rect")
    .attr("x",d=>x(d.data.idx)).attr("width",x.bandwidth()+0.4)
    .attr("y",d=>yA(d[1])).attr("height",d=>Math.max(0,yA(d[0])-yA(d[1])));
  facetSeams[i].forEach(b=>{
    g.append("line").attr("x1",x(b)+x.bandwidth()).attr("x2",x(b)+x.bandwidth())
      .attr("y1",yA(1)).attr("y2",yA(0)).attr("stroke","#fff").attr("stroke-width",1.3);
  });
  g.append("rect").attr("x",left).attr("y",71).attr("width",w).attr("height",666)
    .attr("fill","none").attr("stroke",dark).attr("stroke-width",3);
  g.append("rect").attr("x",left).attr("y",33).attr("width",w).attr("height",38)
    .attr("fill","#D9D9D9").attr("stroke",dark).attr("stroke-width",3);
  g.append("text").attr("x",left+w/2).attr("y",53).attr("text-anchor","middle")
    .attr("dominant-baseline","central").attr("font-size",24).attr("fill","#1a1a1a").text(subtypes[i]);
  g.selectAll("line.tk").data(d3.range(n)).join("line")
    .attr("x1",d=>x(d)+x.bandwidth()/2).attr("x2",d=>x(d)+x.bandwidth()/2)
    .attr("y1",738).attr("y2",746).attr("stroke",dark).attr("stroke-width",3);
});
const aAxis = svg.append("g");
[0,0.25,0.5,0.75,1].forEach(v=>{
  aAxis.append("line").attr("x1",50).attr("x2",57).attr("y1",yA(v)).attr("y2",yA(v)).attr("stroke",dark).attr("stroke-width",2.5);
  aAxis.append("text").attr("x",48).attr("y",yA(v)).attr("text-anchor","end").attr("dominant-baseline","central")
    .attr("font-size",22).attr("fill","#222").text(d3.format(".2f")(v));
});
const colX = [170,433,834,1148,1481];
cellTypes.forEach((c,k)=>{
  const col = Math.floor(k/5), row = k%5;
  const yy = 784 + row*38.7;
  svg.append("rect").attr("x",colX[col]).attr("y",yy).attr("width",36).attr("height",36.5).attr("fill",cellColor(c));
  svg.append("text").attr("x",colX[col]+51).attr("y",yy+18.5).attr("dominant-baseline","central")
    .attr("font-size",23.5).attr("fill","#111").text(c);
});

// ---------------- PANEL B ----------------
const uB = 1700/22.2;
const xB = d3.scaleBand().domain(cellTypes).range([180+0.1*uB, 1880-0.1*uB]).padding(0);
const yB = d3.scaleLinear().domain([0,0.6]).range([1474,1151]);
const gB = svg.append("g");
const bw = 0.1875*uB;
cellTypes.forEach((c,i)=>{
  const cx = xB(c)+xB.bandwidth()/2;
  boxStats[i].forEach((st,j)=>{
    const bx = cx + (j-1.5)*bw;
    const [lo,q1,md,q3,hi] = st;
    gB.append("line").attr("x1",bx).attr("x2",bx).attr("y1",yB(hi)).attr("y2",yB(q3)).attr("stroke",dark).attr("stroke-width",2.4);
    gB.append("line").attr("x1",bx).attr("x2",bx).attr("y1",yB(q1)).attr("y2",yB(lo)).attr("stroke",dark).attr("stroke-width",2.4);
    gB.append("rect").attr("x",bx-bw/2).attr("width",bw).attr("y",yB(q3)).attr("height",yB(q1)-yB(q3))
      .attr("fill",subColors[j]).attr("stroke",dark).attr("stroke-width",2.4);
    gB.append("line").attr("x1",bx-bw/2).attr("x2",bx+bw/2).attr("y1",yB(md)).attr("y2",yB(md)).attr("stroke",dark).attr("stroke-width",3.6);
    boxOutliers[i][j].forEach(v=>{
      gB.append("circle").attr("cx",bx).attr("cy",yB(v)).attr("r",4.2).attr("fill",dark);
    });
  });
  gB.append("text").attr("x",cx).attr("y",1122).attr("text-anchor","middle").attr("font-size",24).attr("fill","#111").text(sigLabels[i]);
  gB.append("line").attr("x1",cx).attr("x2",cx).attr("y1",1492).attr("y2",1501).attr("stroke","#111").attr("stroke-width",2.5);
  gB.append("text").attr("transform",`translate(${cx-7},1506) rotate(-56)`).attr("dy","0.72em")
    .attr("text-anchor","end").attr("font-size",25).attr("fill","#111").text(c);
});
gB.append("line").attr("x1",181).attr("x2",181).attr("y1",1103).attr("y2",1493).attr("stroke","#111").attr("stroke-width",3);
gB.append("line").attr("x1",180).attr("x2",1880).attr("y1",1492).attr("y2",1492).attr("stroke","#111").attr("stroke-width",3);
bTicks.forEach(v=>{
  gB.append("line").attr("x1",172).attr("x2",181).attr("y1",yB(v)).attr("y2",yB(v)).attr("stroke","#111").attr("stroke-width",2.5);
  gB.append("text").attr("x",160).attr("y",yB(v)).attr("text-anchor","end").attr("dominant-baseline","central")
    .attr("font-size",24).attr("fill","#444").text(d3.format(".1f")(v));
});
gB.append("text").attr("transform","translate(99,1308) rotate(-90)").attr("text-anchor","middle").attr("dominant-baseline","central")
  .attr("font-size",23).attr("font-weight","bold").text("Immune Infiltration");
const legBX = [530,891,1139,1320];
subtypes.forEach((s,j)=>{
  const lx = legBX[j], cy = 1044;
  gB.append("line").attr("x1",lx+17).attr("x2",lx+17).attr("y1",cy-18).attr("y2",cy+18).attr("stroke",dark).attr("stroke-width",2.4);
  gB.append("rect").attr("x",lx).attr("y",cy-11).attr("width",34).attr("height",22).attr("fill",subColors[j]).attr("stroke",dark).attr("stroke-width",2.4);
  gB.append("line").attr("x1",lx).attr("x2",lx+34).attr("y1",cy).attr("y2",cy).attr("stroke",dark).attr("stroke-width",3.2);
  gB.append("text").attr("x",lx+52).attr("y",cy).attr("dominant-baseline","central").attr("font-size",23).attr("font-weight","bold").text(s);
});

// ---------------- PANEL C ----------------
const gC = svg.append("g");
const uC = 375/4.2;
const xC = d3.scaleBand().domain(respOrder).range([174+0.1*uC, 549-0.1*uC]).padding(0);
const yC = d3.scaleLinear().domain([-5,105]).range([2185,1843]);
gC.append("rect").attr("x",174).attr("y",1843).attr("width",375).attr("height",342).attr("fill","#EBEBEB");
[12.5,37.5,62.5,87.5].forEach(v=>gC.append("line").attr("x1",174).attr("x2",549).attr("y1",yC(v)).attr("y2",yC(v)).attr("stroke","#fff").attr("stroke-width",1.2));
cTicks.forEach(v=>gC.append("line").attr("x1",174).attr("x2",549).attr("y1",yC(v)).attr("y2",yC(v)).attr("stroke","#fff").attr("stroke-width",2.4));
respOrder.forEach(g=>{const cx=xC(g)+xC.bandwidth()/2; gC.append("line").attr("x1",cx).attr("x2",cx).attr("y1",1843).attr("y2",2185).attr("stroke","#fff").attr("stroke-width",2.4);});
const respTable = respOrder.map((g,i)=>({g, PD:respPD[i], SD:respSD[i], PR:respPR[i], CR:respCR[i]}));
const respSeries = d3.stack().keys(respLevels.slice().reverse())(respTable);
respSeries.forEach(s=>{
  const col = respColors[respLevels.indexOf(s.key)];
  s.forEach(d=>{
    gC.append("rect").attr("x",xC(d.data.g)+0.05*uC).attr("width",0.9*uC)
      .attr("y",yC(d[1])).attr("height",yC(d[0])-yC(d[1])).attr("fill",col);
  });
});
cTicks.forEach(v=>{
  gC.append("line").attr("x1",167).attr("x2",174).attr("y1",yC(v)).attr("y2",yC(v)).attr("stroke","#333").attr("stroke-width",2.2);
  gC.append("text").attr("x",164).attr("y",yC(v)).attr("text-anchor","end").attr("dominant-baseline","central").attr("font-size",23).attr("fill","#111").text(v);
});
respOrder.forEach(g=>{
  const cx = xC(g)+xC.bandwidth()/2;
  gC.append("line").attr("x1",cx).attr("x2",cx).attr("y1",2185).attr("y2",2192).attr("stroke","#333").attr("stroke-width",2.2);
  gC.append("text").attr("transform",`translate(${cx+3},2195) rotate(-45)`).attr("dy","0.72em").attr("text-anchor","end")
    .attr("font-size",23).attr("fill","#111").text(g);
});
gC.append("text").attr("x",383).attr("y",1826).attr("text-anchor","middle").attr("dominant-baseline","central").attr("font-size",23).text("Chi-square P value=0.230");
gC.append("text").attr("transform","translate(106,1993) rotate(-90)").attr("text-anchor","middle").attr("dominant-baseline","central")
  .attr("font-size",23).attr("font-weight","bold").text("Percentage");
gC.append("text").attr("x",574).attr("y",1955).attr("dominant-baseline","central").attr("font-size",23).text("Response");
respLevels.forEach((r,k)=>{
  const yy = 1974 + k*27;
  gC.append("rect").attr("x",574).attr("y",yy).attr("width",26).attr("height",26).attr("fill",respColors[k]);
  gC.append("text").attr("x",607).attr("y",yy+13).attr("dominant-baseline","central").attr("font-size",24).text(r);
});

// ---------------- PANEL D ----------------
const gD = svg.append("g");
const xD = d3.scaleLinear().domain([0,24]).range([1017,1371]);
const yD = d3.scaleLinear().domain([0,1]).range([2173,1809]);
const kmList = [[kmChol,censChol],[kmGlyc,censGlyc],[kmMixed,censMixed],[kmQuies,censQuies]];
const stepLine = d3.line().x(d=>xD(d[0])).y(d=>yD(d[1])).curve(d3.curveStepAfter);
function survAt(steps,t){let s=1; steps.forEach(p=>{if(p[0]<=t) s=p[1];}); return s;}
kmList.forEach(([steps,cens],j)=>{
  const tEnd = Math.max(steps[steps.length-1][0], d3.max(cens));
  const pts = steps.concat([[tEnd, steps[steps.length-1][1]]]);
  gD.append("path").attr("d",stepLine(pts)).attr("fill","none").attr("stroke",subColors[j]).attr("stroke-width",3.2);
  cens.forEach(t=>{
    const s = survAt(steps,t);
    gD.append("line").attr("x1",xD(t)).attr("x2",xD(t)).attr("y1",yD(s)-7).attr("y2",yD(s)+7).attr("stroke",subColors[j]).attr("stroke-width",2.6);
    gD.append("line").attr("x1",xD(t)-6).attr("x2",xD(t)+6).attr("y1",yD(s)).attr("y2",yD(s)).attr("stroke",subColors[j]).attr("stroke-width",2.6);
  });
});
gD.append("line").attr("x1",997).attr("x2",997).attr("y1",1790).attr("y2",2191).attr("stroke","#111").attr("stroke-width",3);
gD.append("line").attr("x1",996).attr("x2",1405).attr("y1",2190).attr("y2",2190).attr("stroke","#111").attr("stroke-width",3);
dTicksY.forEach(v=>{
  gD.append("line").attr("x1",989).attr("x2",997).attr("y1",yD(v)).attr("y2",yD(v)).attr("stroke","#111").attr("stroke-width",2.5);
  gD.append("text").attr("x",984).attr("y",yD(v)).attr("text-anchor","end").attr("dominant-baseline","central").attr("font-size",23).text(d3.format(".2f")(v));
});
riskTimes.forEach(t=>{
  gD.append("line").attr("x1",xD(t)).attr("x2",xD(t)).attr("y1",2190).attr("y2",2198).attr("stroke","#111").attr("stroke-width",2.5);
  gD.append("text").attr("x",xD(t)).attr("y",2213).attr("text-anchor","middle").attr("dominant-baseline","central").attr("font-size",23).text(t);
});
gD.append("text").attr("x",1176).attr("y",2246).attr("text-anchor","middle").attr("dominant-baseline","central").attr("font-size",23).text("Follow up time(months)");
gD.append("text").attr("transform","translate(913,2022) rotate(-90)").attr("text-anchor","middle").attr("dominant-baseline","central")
  .attr("font-size",22).attr("font-weight","bold").text("Survival probability");
gD.append("text").attr("x",1174).attr("y",1796).attr("text-anchor","middle").attr("dominant-baseline","central").attr("font-size",24).attr("font-weight","bold").text("IMvigor210");
gD.append("text").attr("x",1024).attr("y",2103).attr("dominant-baseline","central").attr("font-size",24).text("p = 0.76");
subtypes.forEach((s,j)=>{
  const yy = 1833 + j*35;
  gD.append("line").attr("x1",1189).attr("x2",1217).attr("y1",yy).attr("y2",yy).attr("stroke",subColors[j]).attr("stroke-width",3.2);
  gD.append("line").attr("x1",1203).attr("x2",1203).attr("y1",yy-7).attr("y2",yy+7).attr("stroke",subColors[j]).attr("stroke-width",2.6);
  gD.append("text").attr("x",1229).attr("y",yy).attr("dominant-baseline","central").attr("font-size",24).text(s);
});
gD.append("text").attr("x",846).attr("y",2263).attr("dominant-baseline","central").attr("font-size",23).attr("font-weight","bold").text("Number at risk");
const riskRows = [riskChol,riskGlyc,riskMixed,riskQuies];
riskRows.forEach((r,j)=>{
  const yy = 2295 + j*21.3;
  gD.append("text").attr("x",985).attr("y",yy).attr("text-anchor","end").attr("dominant-baseline","central").attr("font-size",23).text(subtypes[j]);
  r.forEach((v,k)=>gD.append("text").attr("x",xD(riskTimes[k])).attr("y",yy).attr("text-anchor","middle").attr("dominant-baseline","central").attr("font-size",23).text(v));
});
</script></body></html>
